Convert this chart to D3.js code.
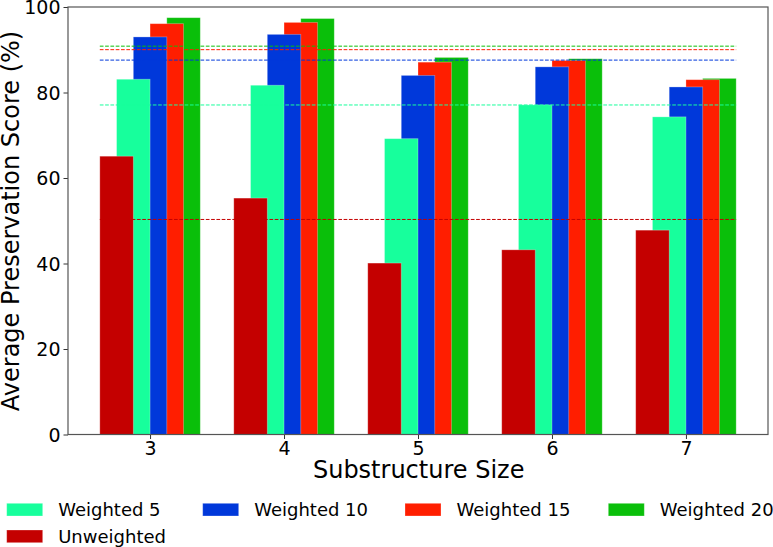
<!DOCTYPE html>
<html>
<head>
<meta charset="utf-8">
<script src="https://cdn.jsdelivr.net/npm/d3@7"></script>
<style>
  html, body { margin: 0; padding: 0; background: #fff; }
  svg { display: block; font-family: "DejaVu Sans", sans-serif; }
</style>
</head>
<body>
<svg id="chart" width="773" height="547"></svg>
<script>
// ---- data ----
const sizes = [3, 4, 5, 6, 7];
const seriesNames = ["Unweighted", "Weighted 5", "Weighted 10", "Weighted 15", "Weighted 20"];
const unweighted = [65.1, 55.3, 40.1, 43.2, 47.8];
const weighted5  = [83.1, 81.7, 69.2, 77.1, 74.3];
const weighted10 = [93.0, 93.6, 84.0, 86.0, 81.3];
const weighted15 = [96.1, 96.4, 87.1, 87.5, 83.0];
const weighted20 = [97.5, 97.3, 88.2, 87.9, 83.3];
const yTicks = [0, 20, 40, 60, 80, 100];

const colors = {
  "Unweighted": "#c40000",
  "Weighted 5": "#17ff9c",
  "Weighted 10": "#0038da",
  "Weighted 15": "#ff1e00",
  "Weighted 20": "#0abf0a"
};
const values = {
  "Unweighted": unweighted,
  "Weighted 5": weighted5,
  "Weighted 10": weighted10,
  "Weighted 15": weighted15,
  "Weighted 20": weighted20
};

// ---- layout ----
const svg = d3.select("#chart");
const plotL = 68, plotR = 768, plotT = 7, plotB = 434.5;
const barW = 0.25;   // in x units
const step = 0.125;  // offset between neighbouring bars

const x = d3.scaleLinear().domain([2.3875, 7.6125]).range([plotL, plotR]);
const y = d3.scaleLinear().domain([0, 100]).range([plotB, plotT]);

// bars: last series drawn first so the earlier ones sit on top
const order = seriesNames.slice().reverse();
order.forEach(name => {
  const i = seriesNames.indexOf(name);
  const off = (i - 2) * step;
  svg.append("g").selectAll("rect")
    .data(sizes.map((s, k) => ({ s, v: values[name][k] })))
    .join("rect")
    .attr("x", d => x(d.s + off - barW / 2))
    .attr("width", d => x(d.s + barW / 2) - x(d.s - barW / 2))
    .attr("y", d => y(d.v))
    .attr("height", d => y(0) - y(d.v))
    .attr("fill", colors[name])
    .attr("stroke", "rgba(255,255,255,0.35)")
    .attr("stroke-width", 0.8);
});

// average dashed lines
const avgOrder = ["Weighted 20", "Weighted 15", "Weighted 10", "Weighted 5", "Unweighted"];
avgOrder.forEach(name => {
  const m = d3.mean(values[name]);
  svg.append("line")
    .attr("x1", x(sizes[0] - 0.375)).attr("x2", x(sizes[sizes.length - 1] + 0.375))
    .attr("y1", y(m)).attr("y2", y(m))
    .attr("stroke", colors[name])
    .attr("stroke-width", 1)
    .attr("stroke-dasharray", "3.7,1.6");
});

// axes
const xAxis = d3.axisBottom(x).tickValues(sizes).tickFormat(d3.format("d")).tickSize(4.5).tickPadding(3);
const yAxis = d3.axisLeft(y).tickValues(yTicks).tickSize(4.5).tickPadding(3);

const gx = svg.append("g").attr("transform", `translate(0,${plotB})`).call(xAxis);
const gy = svg.append("g").attr("transform", `translate(${plotL},0)`).call(yAxis);
[gx, gy].forEach(g => {
  g.select(".domain").remove();
  g.selectAll(".tick line").attr("stroke", "#333").attr("stroke-width", 1);
  g.selectAll(".tick text").attr("fill", "#000").style("font-size", "19px")
    .style("font-family", "'DejaVu Sans', sans-serif");
});
gy.selectAll(".tick text").attr("dy", "0.36em");

// frame
svg.append("rect")
  .attr("x", plotL).attr("y", plotT)
  .attr("width", plotR - plotL).attr("height", plotB - plotT)
  .attr("fill", "none").attr("stroke", "#555").attr("stroke-width", 1.2);

// axis titles
svg.append("text")
  .attr("x", 418.7).attr("y", 478)
  .attr("text-anchor", "middle").style("font-size", "24px")
  .text("Substructure Size");

svg.append("text")
  .attr("transform", "rotate(-90)")
  .attr("x", -221).attr("y", 18.5)
  .attr("text-anchor", "middle").style("font-size", "24px")
  .text("Average Preservation Score (%)");

// legend
const legendItems = ["Weighted 5", "Weighted 10", "Weighted 15", "Weighted 20", "Unweighted"];
const legendCols = [6.7, 202.7, 405, 608.3];
const legend = svg.append("g");
legendItems.forEach((name, i) => {
  const col = i % 4, row = Math.floor(i / 4);
  const lx = legendCols[col], ly = 503.3 + row * 26.7;
  legend.append("rect")
    .attr("x", lx).attr("y", ly).attr("width", 36).attr("height", 12.7)
    .attr("fill", colors[name])
    .attr("stroke", "rgba(255,255,255,0.35)").attr("stroke-width", 0.8);
  legend.append("text")
    .attr("x", lx + 51.5).attr("y", ly + 13)
    .style("font-size", "18px")
    .text(name);
});
</script>
</body>
</html>
